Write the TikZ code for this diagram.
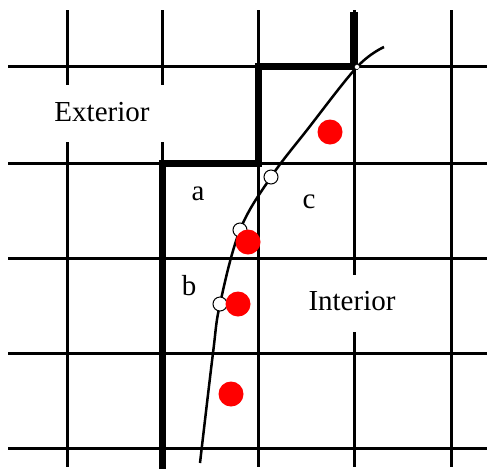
\documentclass[tikz,border=0pt]{standalone}
\usepackage{fontspec}
\setmainfont{Liberation Serif}

\begin{document}
\begin{tikzpicture}[x=1pt,y=-1pt,
   gridline/.style={line width=3pt, color=black},
   wall/.style={line width=7pt, color=black, line cap=rect},
   crossing/.style={circle, draw=black, line width=1pt, fill=white, minimum size=14pt, inner sep=0pt},
   sample/.style={circle, fill=red, minimum size=25pt, inner sep=0pt},
   region/.style={font=\fontsize{29}{34}\selectfont, inner sep=0pt}]

   \useasboundingbox (0,0) rectangle (487,472);

   % grid
   \foreach \y in {66,163,258,353,448}
      \draw[gridline] (8,\y) -- (487,\y);
   \foreach \x in {67,162}{
      \draw[gridline] (\x,10) -- (\x,85);
      \draw[gridline] (\x,142) -- (\x,467);
   }
   \draw[gridline] (258,10) -- (258,467);
   \draw[gridline] (354,10) -- (354,275);
   \draw[gridline] (354,332) -- (354,467);
   \draw[gridline] (451,10) -- (451,467);

   % boundary cells
   \draw[wall] (162,465) -- (162,163) -- (258,163) -- (258,66) -- (354,66);
   \draw[line width=8pt] (354,12) -- (354,66);

   % curve
   \coordinate (c0) at (200,463);
   \coordinate (c1) at (220,304);
   \coordinate (c2) at (240,230);
   \coordinate (c3) at (271,177);
   \coordinate (c4) at (357,67);
   \coordinate (c5) at (384,47);
   \draw[line width=2.5pt] plot[smooth, tension=0.6] coordinates
      {(c0) (213,353) (c1) (c2) (c3) (307,130) (c4) (c5)};

   \node[crossing] (x1) at (c1) {};
   \node[crossing] (x2) at (c2) {};
   \node[crossing] (x3) at (c3) {};
   \node[crossing, minimum size=5pt, line width=0.4pt] (x4) at (c4) {};

   % samples
   \node[sample] (s1) at (330,132) {};
   \node[sample] (s2) at (248,242) {};
   \node[sample] (s3) at (238,304) {};
   \node[sample] (s4) at (231,394) {};

   % labels
   \node[region] (ext) at (102,112) {Exterior};
   \node[region] (int) at (352,301) {Interior};
   \node[region] (la) at (198,194) {a};
   \node[region] (lb) at (189,286) {b};
   \node[region] (lc) at (309,202) {c};
\end{tikzpicture}
\end{document}
